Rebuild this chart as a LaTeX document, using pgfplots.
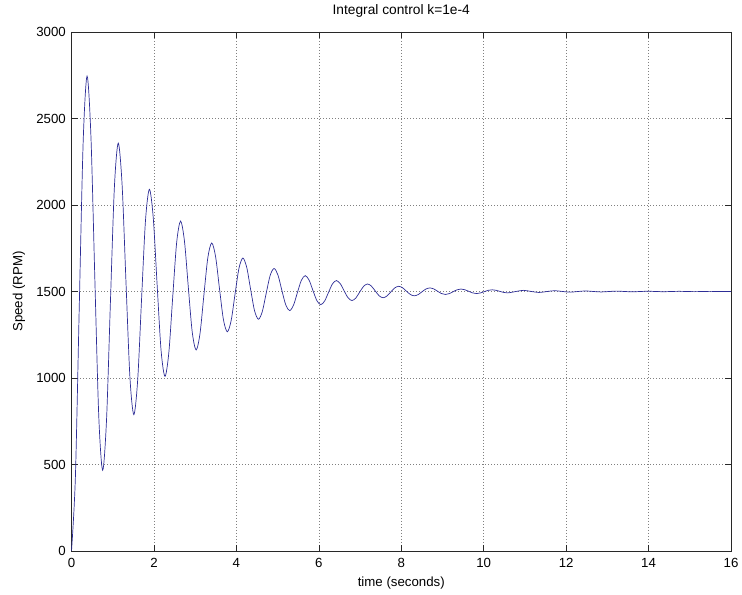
\documentclass[border=0pt]{standalone}
\usepackage{fontspec}
\setmainfont{Liberation Sans}
\usepackage{pgfplots}
\pgfplotsset{compat=1.18}
\definecolor{mlblue}{RGB}{45,45,150}
\definecolor{mlaxis}{RGB}{40,40,40}
\newcommand{\mlfont}{\fontsize{13.3}{16}\selectfont}

\begin{document}
\begin{tikzpicture}
\begin{axis}[
  scale only axis,
  width=659.5bp, height=519bp,
  xmin=0, xmax=16, ymin=0, ymax=3000,
  xtick={0,2,...,16},
  ytick={0,500,...,3000},
  tick pos=both,
  tick align=inside,
  major tick length=6bp,
  axis line style={mlaxis, line width=0.6bp},
  every tick/.style={mlaxis, line width=0.6bp},
  grid=major,
  grid style={black!50, line width=0.5bp, dash pattern=on 0.5bp off 2.5bp},
  /pgf/number format/assume math mode=true,
  /pgf/number format/1000 sep={},
  tick label style={font=\mlfont},
  xticklabel style={anchor=base, inner sep=0pt, yshift=-17bp},
  yticklabel style={anchor=east, inner sep=0pt, xshift=-5.5bp},
  title={Integral control k=1e-4},
  title style={font=\fontsize{13.8}{16}\selectfont, at={(axis description cs:0.5,1)}, anchor=base, yshift=12bp},
  xlabel={time (seconds)},
  xlabel style={font=\mlfont, at={(axis description cs:0.5,0)}, anchor=base, yshift=-36bp},
  ylabel={Speed (RPM)},
  ylabel style={font=\mlfont, at={([xshift=-49bp]axis description cs:0,0.5)}, anchor=base},
]
\addplot[mlblue, line width=0.7bp, smooth] coordinates {
(0,0) (0.0945,427.7) (0.189,1419.0) (0.2835,2367.6) (0.378,2745.0)
(0.4725,2390.0) (0.567,1567.3) (0.6615,779.8) (0.756,466.7)
(0.8505,761.3) (0.945,1444.2) (1.0395,2097.7) (1.134,2357.6)
(1.2285,2113.1) (1.323,1546.3) (1.4175,1003.9) (1.512,788.2)
(1.6065,991.1) (1.701,1461.5) (1.7955,1911.8) (1.89,2090.8)
(1.9845,1922.4) (2.079,1531.9) (2.1735,1158.3) (2.268,1009.6)
(2.3625,1149.5) (2.457,1473.5) (2.5515,1783.6) (2.646,1907.0)
(2.7405,1791.0) (2.835,1522.0) (2.9295,1264.6) (3.024,1162.2)
(3.1185,1258.5) (3.213,1481.8) (3.3075,1695.4) (3.402,1780.4)
(3.4965,1700.4) (3.591,1515.1) (3.6855,1337.8) (3.78,1267.3)
(3.8745,1333.6) (3.969,1487.4) (4.0635,1634.6) (4.158,1693.1)
(4.2525,1638.0) (4.347,1510.4) (4.4415,1388.3) (4.536,1339.7)
(4.6305,1385.4) (4.725,1491.3) (4.8195,1592.7) (4.914,1633.0)
(5.0085,1595.1) (5.103,1507.2) (5.1975,1423.0) (5.292,1389.6)
(5.3865,1421.1) (5.481,1494.0) (5.5755,1563.9) (5.67,1591.6)
(5.7645,1565.5) (5.859,1505.0) (5.9535,1447.0) (6.048,1423.9)
(6.1425,1445.6) (6.237,1495.9) (6.3315,1544.0) (6.426,1563.2)
(6.5205,1545.2) (6.615,1503.4) (6.7095,1463.5) (6.804,1447.6)
(6.8985,1462.5) (6.993,1497.2) (7.0875,1530.3) (7.182,1543.5)
(7.2765,1531.1) (7.371,1502.3) (7.4655,1474.9) (7.56,1463.9)
(7.6545,1474.2) (7.749,1498.0) (7.8435,1520.9) (7.938,1530.0)
(8.0325,1521.4) (8.127,1501.6) (8.2215,1482.7) (8.316,1475.1)
(8.4105,1482.2) (8.505,1498.7) (8.5995,1514.4) (8.694,1520.6)
(8.7885,1514.8) (8.883,1501.1) (8.9775,1488.1) (9.072,1482.9)
(9.1665,1487.8) (9.261,1499.1) (9.3555,1509.9) (9.45,1514.2)
(9.5445,1510.1) (9.639,1500.8) (9.7335,1491.8) (9.828,1488.2)
(9.9225,1491.6) (10.017,1499.4) (10.1115,1506.8) (10.206,1509.8)
(10.3005,1507.0) (10.395,1500.5) (10.4895,1494.4) (10.584,1491.9)
(10.773,1499.6) (10.962,1506.7) (11.151,1500.4) (11.34,1494.4)
(11.529,1499.7) (11.718,1504.6) (11.907,1500.3) (12.096,1496.2)
(12.285,1500.0) (12.474,1503.2) (12.663,1500.0) (12.852,1497.4)
(13.041,1500.0) (13.23,1502.2) (13.419,1500.0) (13.608,1498.2)
(13.797,1500.0) (13.986,1501.5) (14.175,1500.0) (14.364,1498.7)
(14.553,1500.0) (14.742,1501.0) (14.931,1500.0) (15.12,1499.1)
(15.309,1500.0) (15.498,1500.7) (15.687,1500.0) (15.876,1499.4)
(16,1500)
};
\end{axis}
% fix the page to the reference margins
\pgfresetboundingbox
\path ([shift={(-71.5bp,-44bp)}]current axis.south west) rectangle ([shift={(11bp,32bp)}]current axis.north east);
\end{tikzpicture}
\end{document}
